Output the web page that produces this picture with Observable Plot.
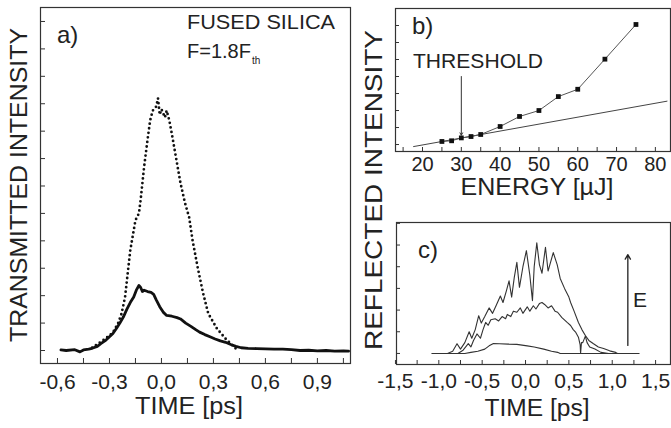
<!DOCTYPE html>
<html>
<head>
<meta charset="utf-8">
<script src="https://cdn.jsdelivr.net/npm/d3@7"></script>
<script src="https://cdn.jsdelivr.net/npm/@observablehq/plot@0.6"></script>
<style>
  html, body { margin: 0; padding: 0; background: #fff; }
  #chart { position: relative; width: 671px; height: 428px; overflow: hidden; background: #fff; }
  #chart svg { position: absolute; left: 0; top: 0; }
</style>
</head>
<body>
<div id="chart"></div>
<script>
// ---------- Panel a) data ----------
const aSolidTime  = [-0.58,-0.55,-0.50,-0.47,-0.45,-0.42,-0.40,-0.37,-0.35,-0.32,-0.30,-0.28,-0.26,-0.24,-0.22,-0.20,-0.18,-0.16,-0.145,-0.13,-0.12,-0.11,-0.10,-0.08,-0.06,-0.045,-0.03,-0.01,0.01,0.03,0.06,0.09,0.11,0.14,0.17,0.20,0.22,0.25,0.28,0.31,0.34,0.37,0.40,0.43,0.46,0.50,0.55,0.60,0.65,0.70,0.75,0.80,0.85,0.90,0.95,1.00,1.05,1.08];
const aSolidValue = [0.02,0.00,0.03,-0.05,0.02,0.05,0.08,0.15,0.25,0.38,0.50,0.62,0.80,1.00,1.22,1.50,1.75,1.95,2.20,2.37,2.30,2.15,2.20,2.15,2.12,2.05,1.85,1.60,1.40,1.28,1.25,1.20,1.15,1.00,0.88,0.75,0.67,0.58,0.50,0.42,0.35,0.30,0.22,0.15,0.10,0.08,0.07,0.06,0.05,0.05,0.03,0.00,0.01,-0.01,0.00,-0.02,-0.01,-0.02];
const aDotTime  = [-0.40,-0.33,-0.28,-0.25,-0.23,-0.21,-0.195,-0.18,-0.165,-0.15,-0.13,-0.12,-0.10,-0.08,-0.065,-0.05,-0.03,-0.02,-0.01,0.00,0.02,0.03,0.045,0.06,0.085,0.11,0.135,0.16,0.18,0.21,0.24,0.27,0.32,0.37,0.44];
const aDotValue = [0.10,0.40,0.65,1.00,1.35,1.95,2.80,3.65,4.20,4.75,5.00,5.50,6.70,7.70,8.40,8.75,8.90,9.20,8.60,8.80,8.50,8.75,8.40,7.90,7.00,6.10,5.40,4.85,4.00,3.00,2.10,1.35,0.80,0.43,0.00];
const aTimeTicks = [-0.6,-0.3,0.0,0.3,0.6,0.9];
const aMinorTicks = [-0.6,-0.45,-0.3,-0.15,0,0.15,0.3,0.45,0.6,0.75,0.9,1.05];
const aYTicks = [0,1,2,3,4,5,6,7,8,9,10,11,12];

// ---------- Panel b) data ----------
const bEnergy = [25,27.5,30,32.5,35,40,45,50,55,60,67,75];
const bReflected = [0.18,0.22,0.39,0.47,0.59,1.06,1.65,2.0,2.82,3.25,5.02,7.06];
const bFitEnergy = [17.7,83];
const bFitValue = [-0.12,2.55];
const bThresholdEnergy = 30;
const bThresholdArrow = [4.0,0.55];
const bXTicks = [20,30,40,50,60,70,80];
const bXMinor = [15,20,25,30,35,40,45,50,55,60,65,70,75,80];
const bYTicks = [0,1,2,3,4,5,6,7];

// ---------- Panel c) data ----------
const cHighTime  = [-0.90,-0.84,-0.79,-0.75,-0.70,-0.65,-0.62,-0.58,-0.54,-0.51,-0.47,-0.42,-0.38,-0.34,-0.29,-0.26,-0.22,-0.19,-0.16,-0.13,-0.10,-0.07,-0.03,0.01,0.05,0.08,0.10,0.13,0.16,0.19,0.23,0.26,0.32,0.365,0.40,0.45,0.50,0.52,0.56,0.61,0.65,0.69,0.73,0.78,0.84,0.90,0.97,1.04,1.06];
const cHighValue = [0.00,0.10,0.45,0.20,0.50,1.00,0.70,1.10,1.74,1.40,1.70,2.10,1.85,2.20,2.65,2.35,2.90,3.35,2.60,3.50,4.20,3.05,4.00,4.74,3.60,2.43,4.00,5.10,4.10,3.70,4.90,3.80,4.65,4.10,3.46,3.00,2.60,2.35,1.95,1.43,1.10,0.83,0.60,0.46,0.30,0.23,0.12,0.05,0.00];
const cMidTime  = [-0.78,-0.72,-0.66,-0.63,-0.60,-0.56,-0.52,-0.49,-0.46,-0.43,-0.40,-0.35,-0.31,-0.27,-0.23,-0.21,-0.17,-0.14,-0.10,-0.06,-0.03,0.02,0.05,0.09,0.12,0.16,0.19,0.22,0.26,0.30,0.34,0.37,0.42,0.48,0.52,0.55,0.58,0.61,0.63,0.635,0.645,0.66,0.69,0.71,0.74,0.80,0.87,0.96];
const cMidValue = [0.00,0.15,0.45,0.30,0.60,0.90,0.70,1.10,1.43,1.30,1.55,1.60,1.50,1.70,1.60,1.80,1.70,1.95,1.90,2.10,1.85,2.15,1.95,2.20,2.05,2.30,2.35,2.26,2.10,2.20,1.95,1.90,1.65,1.43,1.29,1.10,0.97,0.75,0.40,0.00,0.50,0.50,0.80,0.50,0.30,0.20,0.05,0.00];
const cLowTime  = [-1.08,-0.70,-0.63,-0.55,-0.47,-0.42,-0.37,-0.30,-0.20,-0.10,0.02,0.10,0.21,0.30,0.37,0.40,1.31];
const cLowValue = [0.00,0.00,0.05,0.10,0.20,0.35,0.46,0.45,0.43,0.42,0.35,0.30,0.20,0.10,0.05,0.00,0.00];
const cArrowTime = 1.18;
const cArrowValue = [0.37,4.56];
const cXTicks = [-1.5,-1.0,-0.5,0.0,0.5,1.0,1.5];
const cXMinor = [-1.5,-1.25,-1.0,-0.75,-0.5,-0.25,0,0.25,0.5,0.75,1.0,1.25,1.5];
const cYTicks = [0,1,2,3,4,5,6];

// ---------- helpers ----------
const pts = (xs, ys) => xs.map((x, i) => ({x, y: ys[i]}));
const comma = d => d.toFixed(1).replace(".", ",");
const FONT = "'Liberation Sans', Arial, Helvetica, sans-serif";
const INK = "#222";
const baseStyle = {background: "transparent", fontFamily: FONT, fontSize: "21px", color: INK, overflow: "visible", maxWidth: "none"};
const chart = document.getElementById("chart");

// ---------- Panel a ----------
const plotA = Plot.plot({
  width: 671, height: 428,
  marginLeft: 40, marginRight: 321, marginTop: 7, marginBottom: 65,
  x: {domain: [-0.698, 1.091], label: null},
  y: {domain: [-0.474, 12.51], label: null},
  style: baseStyle,
  marks: [
    Plot.frame({stroke: "#333", strokeWidth: 1.2}),
    Plot.axisX({ticks: aMinorTicks, tickSize: -5, tickFormat: () => "", label: null, stroke: "#333"}),
    Plot.axisX({ticks: aTimeTicks, tickSize: 0, tickPadding: 11, tickFormat: comma, label: null, fontSize: 21, fill: INK}),
    Plot.axisY({ticks: aYTicks, tickSize: -5, tickFormat: () => "", label: null, stroke: "#333"}),
    Plot.line(pts(aDotTime, aDotValue), {x: "x", y: "y", stroke: "#111", strokeWidth: 2.8, strokeLinecap: "round", strokeDasharray: "0,4.6"}),
    Plot.line(pts(aSolidTime, aSolidValue), {x: "x", y: "y", stroke: "#111", strokeWidth: 2.8, strokeLinejoin: "round"})
  ]
});
chart.append(plotA);

// ---------- Panel b ----------
const plotB = Plot.plot({
  width: 671, height: 428,
  marginLeft: 395, marginRight: 1, marginTop: 8, marginBottom: 277,
  x: {domain: [13.04, 83.9], label: null},
  y: {domain: [-0.41, 8.0], label: null},
  style: baseStyle,
  marks: [
    Plot.frame({stroke: "#333", strokeWidth: 1.2}),
    Plot.axisX({ticks: bXMinor, tickSize: -4, tickFormat: () => "", label: null, stroke: "#333"}),
    Plot.axisX({ticks: bXTicks, tickSize: 0, tickPadding: 5, label: null, fontSize: 20, fill: INK}),
    Plot.axisY({ticks: bYTicks, tickSize: -4, tickFormat: () => "", label: null, stroke: "#333"}),
    Plot.line(pts(bFitEnergy, bFitValue), {x: "x", y: "y", stroke: "#444", strokeWidth: 1}),
    Plot.line(pts(bEnergy, bReflected), {x: "x", y: "y", stroke: "#555", strokeWidth: 1}),
    Plot.dot(pts(bEnergy, bReflected), {x: "x", y: "y", symbol: "square", r: 2.7, fill: "#111", stroke: "none"}),
    Plot.arrow([{x: bThresholdEnergy, y1: bThresholdArrow[0], y2: bThresholdArrow[1]}],
      {x1: "x", x2: "x", y1: "y1", y2: "y2", stroke: "#333", strokeWidth: 1, headLength: 4})
  ]
});
chart.append(plotB);

// ---------- Panel c ----------
const plotC = Plot.plot({
  width: 671, height: 428,
  marginLeft: 396, marginRight: 1, marginTop: 222, marginBottom: 64,
  x: {domain: [-1.488, 1.672], label: null},
  y: {domain: [-0.51, 6.04], label: null},
  style: baseStyle,
  marks: [
    Plot.frame({stroke: "#333", strokeWidth: 1.2}),
    Plot.axisX({ticks: cXMinor, tickSize: -4, tickFormat: () => "", label: null, stroke: "#333"}),
    Plot.axisX({ticks: cXTicks, tickSize: 0, tickPadding: 9, tickFormat: comma, label: null, fontSize: 21, fill: INK}),
    Plot.axisY({ticks: cYTicks, tickSize: -4, tickFormat: () => "", label: null, stroke: "#333"}),
    Plot.line(pts(cLowTime, cLowValue), {x: "x", y: "y", stroke: "#333", strokeWidth: 1.1}),
    Plot.line(pts(cMidTime, cMidValue), {x: "x", y: "y", stroke: "#333", strokeWidth: 1.1}),
    Plot.line(pts(cHighTime, cHighValue), {x: "x", y: "y", stroke: "#333", strokeWidth: 1.1}),
    Plot.arrow([{x: cArrowTime, y1: cArrowValue[0], y2: cArrowValue[1]}],
      {x1: "x", x2: "x", y1: "y1", y2: "y2", stroke: "#222", strokeWidth: 1.3, headLength: 6})
  ]
});
chart.append(plotC);

// ---------- Text overlay ----------
const labels = [
  {text: "a)", x: 57, y: 43, size: 24, anchor: "start"},
  {text: "FUSED SILICA", x: 187, y: 29, size: 21, anchor: "start", len: 148},
  {text: "TIME [ps]", x: 189, y: 414, size: 23, anchor: "middle", len: 108},
  {text: "TRANSMITTED INTENSITY", x: 27, y: 185, size: 24, anchor: "middle", len: 314, rotate: -90},
  {text: "b)", x: 412, y: 34, size: 24, anchor: "start"},
  {text: "THRESHOLD", x: 413, y: 68, size: 20, anchor: "start", len: 130},
  {text: "ENERGY [µJ]", x: 537, y: 195, size: 24, anchor: "middle", len: 153},
  {text: "REFLECTED INTENSITY", x: 382, y: 190, size: 24, anchor: "middle", len: 320, rotate: -90},
  {text: "c)", x: 418, y: 258, size: 24, anchor: "start"},
  {text: "E", x: 633, y: 307, size: 21, anchor: "start"},
  {text: "TIME [ps]", x: 537, y: 416, size: 23, anchor: "middle", len: 105}
];
const overlay = d3.create("svg")
  .attr("width", 671).attr("height", 428)
  .style("font-family", FONT).style("fill", INK);
for (const l of labels) {
  const t = overlay.append("text")
    .attr("transform", `translate(${l.x},${l.y})` + (l.rotate ? ` rotate(${l.rotate})` : ""))
    .attr("text-anchor", l.anchor)
    .attr("font-size", l.size)
    .attr("fill", INK)
    .text(l.text);
  if (l.len) t.attr("textLength", l.len).attr("lengthAdjust", "spacingAndGlyphs");
}
const fl = overlay.append("text").attr("transform", "translate(187,58)").attr("font-size", 20).attr("fill", INK);
fl.append("tspan").text("F=1.8F");
fl.append("tspan").attr("font-size", 10).attr("dy", 6).attr("dx", 1).text("th");
chart.append(overlay.node());
</script>
</body>
</html>
